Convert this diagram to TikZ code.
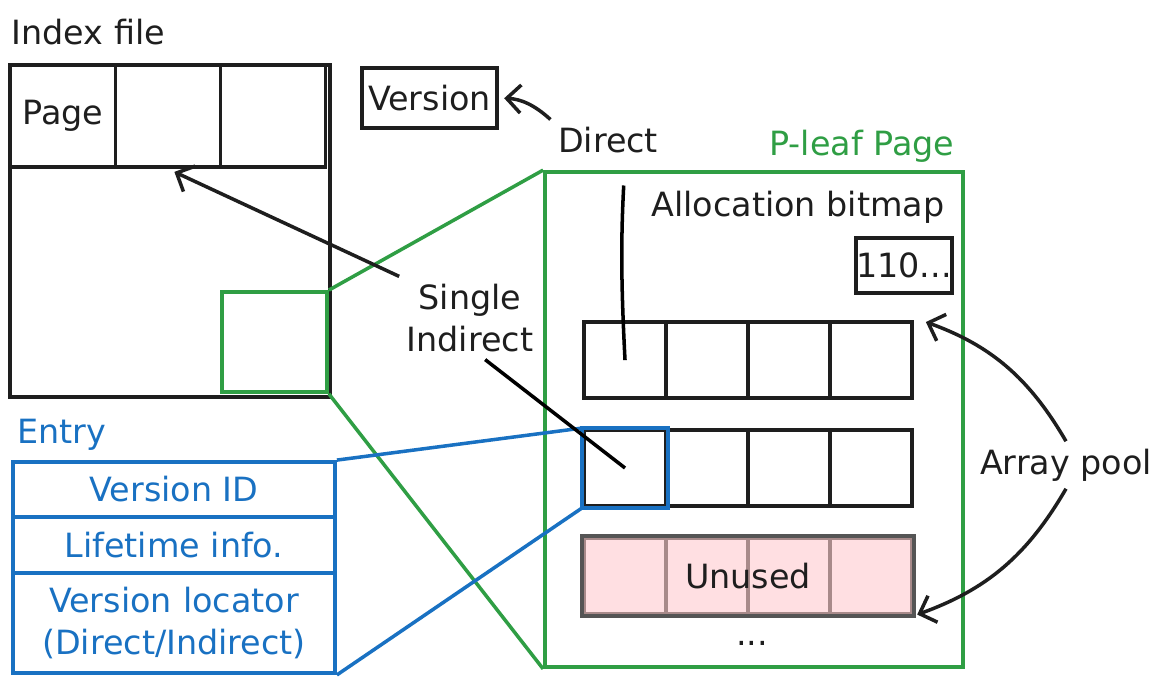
\documentclass[tikz,border=0pt]{standalone}
\usepackage{fontspec}
\setmainfont{DejaVu Sans}
\usepackage{tikz}
\usetikzlibrary{matrix,positioning,arrows.meta,calc}

\definecolor{inkblack}{HTML}{1E1E1E}
\definecolor{inkgreen}{HTML}{2F9E44}
\definecolor{inkblue}{HTML}{1971C2}
\definecolor{unusedfill}{HTML}{FFDFE2}
\definecolor{unusedline}{HTML}{A88A8A}
\definecolor{unusededge}{HTML}{555555}

\tikzset{
  box/.style={draw=inkblack, line width=2.2pt, inner sep=0pt, anchor=center},
  unused/.style={fill=unusedfill, draw=unusedline},
  arr/.style={-{Straight Barb[length=8pt,width=16pt]}, line width=2pt, draw=inkblack}
}

\begin{document}
\begin{tikzpicture}[x=0.02cm,y=-0.02cm, line width=2pt, font=\fontsize{19}{24}\selectfont, text=inkblack]
\useasboundingbox (0,0) rectangle (1167,683);

\node[anchor=west] (title) at (4,32) {Index file};
\node[box, minimum width=6.4cm, minimum height=6.64cm] (idx) at (170,231) {};
\matrix (pg)[matrix of nodes, nodes in empty cells, column sep=-2.2pt, nodes={box, minimum width=2.1cm, minimum height=2.04cm}] at (168,116)
{
Page & & \\
};
\node[box, draw=inkgreen, minimum width=2.1cm, minimum height=2cm] (sel) at (274.5,342) {};

\node[box, draw=inkgreen, minimum width=8.36cm, minimum height=9.9cm] (leaf) at (754,419.5) {};
\node[anchor=east, text=inkgreen] (leaflabel) at (962,146) {P-leaf Page};
\draw[inkgreen] (sel.north east) -- (leaf.north west);
\draw[inkgreen] (sel.south east) -- (leaf.south west);

\node[box, minimum width=2.7cm, minimum height=1.2cm] (ver) at (429.5,98) {Version};
\node (direct) at (608,140) {Direct};
\node[anchor=east] (bitmap) at (952,207) {Allocation bitmap};
\node[box, minimum width=1.92cm, minimum height=1.1cm] (bits) at (904,265.5) {110...};

\matrix (arr)[matrix of nodes, nodes in empty cells, column sep=-2.2pt, row sep=0.56cm, nodes={box, minimum width=1.64cm, minimum height=1.52cm}, row 3/.style={nodes={unused}}] at (748,468)
{
 & & & \\
 & & & \\
 & & & \\
};
\draw[inkblue, line width=2.2pt] (arr-2-1.north west) rectangle (arr-2-1.south east);
\draw[unusededge, line width=2.2pt] (arr-3-1.north west) rectangle (arr-3-4.south east);
\node (unusedlabel) at ($(arr-3-2)!.5!(arr-3-3)$) {Unused};
\node (dots) at (752,643) {...};

\node[align=center] (sgl) at (470,318) {Single\\Indirect};
\node (pool) at (1066,465) {Array pool};

\node[anchor=west, text=inkblue] (entlabel) at (10,435) {Entry};
\matrix (ent)[matrix of nodes, row sep=-2.2pt, nodes={box, draw=inkblue, text=inkblue, minimum width=6.44cm}] at (174,567.5)
{
|[minimum height=1.1cm]| Version ID \\
|[minimum height=1.12cm]| Lifetime info. \\
|[minimum height=2cm, text width=6.2cm, align=center]| Version locator (Direct/Indirect) \\
};
\draw[inkblue] (ent-1-1.north east) -- (arr-2-1.north west);
\draw[inkblue] (ent-3-1.south east) -- (arr-2-1.south west);

\draw[arr, shorten >=3pt] (direct.north west) to[bend right=20] (ver.east);
\draw[line width=2pt, shorten <=0.5cm] (direct.south -| arr-1-1) to[bend right=3] (arr-1-1.center);
\draw[arr, shorten >=4pt] (sgl.north west) -- (pg-1-2.south);
\draw[line width=2pt] (sgl.290) -- (arr-2-1.center);
\draw[arr, shorten >=3pt] (pool.north) to[bend right=20] ([xshift=4pt]arr-1-4.north east);
\draw[arr, shorten >=2pt] (pool.south) to[bend left=20] (arr-3-4.south east);
\end{tikzpicture}
\end{document}
